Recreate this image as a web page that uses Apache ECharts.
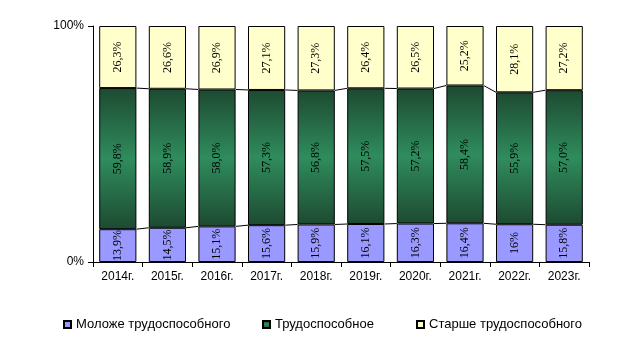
<!DOCTYPE html>
<html><head><meta charset="utf-8">
<script src="https://cdn.jsdelivr.net/npm/echarts@6/dist/echarts.min.js"></script>
<style>html,body{margin:0;padding:0;background:#fff}#c{width:638px;height:342px}</style>
</head><body><div id="c"></div>
<script>
const categories = ['2014г.','2015г.','2016г.','2017г.','2018г.','2019г.','2020г.','2021г.','2022г.','2023г.'];
const young = [13.9,14.5,15.1,15.6,15.9,16.1,16.3,16.4,16,15.8];
const working = [59.8,58.9,58.0,57.3,56.8,57.5,57.2,58.4,55.9,57.0];
const older = [26.3,26.6,26.9,27.1,27.3,26.4,26.5,25.2,28.1,27.2];
const yTicks = ['0%','100%'];
const names = ['Моложе трудоспособного','Трудоспособное','Старше трудоспособного'];

const fmtRaw = p => String(p.value).replace('.', ',') + '%';
const fmtFixed = p => p.value.toFixed(1).replace('.', ',') + '%';
const labelBase = {show:true, position:'inside', rotate:90, color:'#000', fontFamily:'Liberation Serif', fontSize:12};
const green = {type:'linear',x:0,y:0,x2:0,y2:1,colorStops:[
  {offset:0,color:'#1d4a31'},{offset:0.5,color:'#2f8c5d'},{offset:1,color:'#1d4a31'}]};

const cum1 = young.slice();
const cum2 = young.map((v,i)=>v+working[i]);
const connData = [];
for (let i=0;i<categories.length-1;i++){
  connData.push([i, cum1[i], cum1[i+1]]);
  connData.push([i, cum2[i], cum2[i+1]]);
}
const BW = 0.75;

const chart = echarts.init(document.getElementById('c'));
const legendBase = {icon:'rect', itemWidth:7, itemHeight:7, top:313, itemGap:0, selectedMode:false,
  textStyle:{fontFamily:'Liberation Sans',fontSize:13,color:'#000'}};
chart.setOption({
  animation:false,
  grid:{left:93,right:49,top:26,bottom:80},
  legend:[
    Object.assign({}, legendBase, {left:58, data:[names[0]]}),
    Object.assign({}, legendBase, {left:257, data:[names[1]]}),
    Object.assign({}, legendBase, {left:411, data:[names[2]]})
  ],
  xAxis:{type:'category', data:categories,
    axisLine:{lineStyle:{color:'#000',width:1}},
    axisTick:{show:true, alignWithLabel:false, length:5, lineStyle:{color:'#000'}},
    axisLabel:{color:'#000', fontFamily:'Liberation Sans', fontSize:12, margin:9}},
  yAxis:{type:'value', min:0, max:100, interval:100,
    axisLine:{show:true, lineStyle:{color:'#000',width:1}},
    axisTick:{show:true, length:5, lineStyle:{color:'#000'}},
    splitLine:{show:false},
    axisLabel:{color:'#000', fontFamily:'Liberation Sans', fontSize:12, margin:9,
      formatter: v => v===0 ? yTicks[0] : yTicks[1]}},
  series:[
    {name:names[0], type:'bar', stack:'s', data:young, barWidth:'75%',
      itemStyle:{color:'#9999ff', borderColor:'#000', borderWidth:1}, label:Object.assign({formatter:fmtRaw}, labelBase)},
    {name:names[1], type:'bar', stack:'s', data:working, barWidth:'75%',
      itemStyle:{color:green, borderColor:'#000', borderWidth:1}, label:Object.assign({formatter:fmtFixed}, labelBase)},
    {name:names[2], type:'bar', stack:'s', data:older, barWidth:'75%',
      itemStyle:{color:'#ffffcc', borderColor:'#000', borderWidth:1}, label:Object.assign({formatter:fmtFixed}, labelBase)},
    {type:'custom', data:connData, encode:{x:0,y:1}, z:5, silent:true,
      renderItem:(params, api)=>{
        const i = api.value(0);
        const p1 = api.coord([i, api.value(1)]);
        const p2 = api.coord([i+1, api.value(2)]);
        const half = api.size([1,0])[0]*BW/2;
        return {type:'line', shape:{x1:p1[0]+half, y1:p1[1], x2:p2[0]-half, y2:p2[1]},
          style:{stroke:'#000', lineWidth:1}};
      }}
  ]
});
</script></body></html>
